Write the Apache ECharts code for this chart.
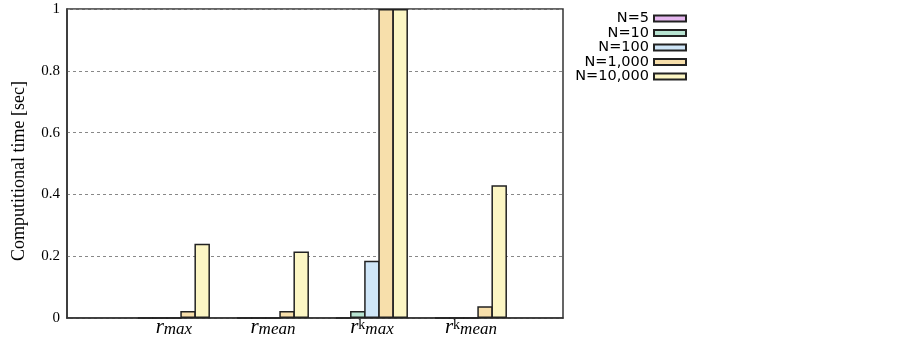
<!DOCTYPE html>
<html>
<head>
<meta charset="utf-8">
<script src="https://cdn.jsdelivr.net/npm/echarts@6/dist/echarts.min.js"></script>
<style>
html,body{margin:0;padding:0;background:#fff;}
#chart{width:903px;height:342px;}
</style>
</head>
<body>
<div id="chart"></div>
<script>
// Category label parts (r with optional superscript and subscript)
const categoryBase = ['r', 'r', 'r', 'r'];
const categorySup = ['', '', 'k', 'k'];
const categorySub = ['max', 'mean', 'max', 'mean'];
const categoryPos = [0, 1, 2, 3];

const seriesNames = ['N=5', 'N=10', 'N=100', 'N=1,000', 'N=10,000'];
const valuesN5 = [0, 0, 0, 0];
const valuesN10 = [0, 0, 0.023, 0];
const valuesN100 = [0, 0, 0.185, 0];
const valuesN1000 = [0.023, 0.023, 1, 0.038];
const valuesN10000 = [0.24, 0.215, 1, 0.43];

const yTicks = [0, 0.2, 0.4, 0.6, 0.8, 1];
const yTickLabels = ['0', '0.2', '0.4', '0.6', '0.8', '1'];

const colors = ['#e6b8f0', '#b8e4d2', '#cfe6f8', '#f7dfab', '#fcf6c4'];
const allValues = [valuesN5, valuesN10, valuesN100, valuesN1000, valuesN10000];

const chart = echarts.init(document.getElementById('chart'), null, {renderer: 'canvas'});

const series = seriesNames.map((name, i) => ({
  name: name,
  type: 'bar',
  data: allValues[i].map((v, k) => [categoryPos[k], v]),
  barWidth: 15.5,
  barGap: '-8.8%',
  itemStyle: {color: colors[i], borderColor: '#222', borderWidth: 1.5},
  emphasis: {disabled: true},
  clip: true
}));

chart.setOption({
  animation: false,
  backgroundColor: '#fff',
  grid: {left: 67, top: 9, width: 496, height: 309, show: true, borderColor: '#333', borderWidth: 1.5, backgroundColor: 'transparent'},
  legend: {
    data: seriesNames,
    orient: 'vertical',
    right: 211,
    top: 6,
    align: 'right',
    icon: 'rect',
    itemWidth: 32,
    itemHeight: 6,
    itemGap: -0.5,
    textStyle: {fontFamily: 'DejaVu Sans', fontSize: 14.5, color: '#000', lineHeight: 14},
    selectedMode: false
  },
  xAxis: {
    type: 'value',
    min: -1.08,
    max: 3.93,
    splitLine: {show: false},
    axisLine: {show: true, onZero: false, lineStyle: {color: '#333', width: 1.5}},
    axisTick: {show: false},
    axisLabel: {
      customValues: categoryPos,
      margin: 0,
      formatter: function (v) {
        const k = Math.round(v);
        let s = '{r|' + categoryBase[k] + '}';
        if (categorySup[k]) s += '{sup|' + categorySup[k] + '}';
        s += '{sub|' + categorySub[k] + '}';
        return s;
      },
      rich: {
        r: {fontFamily: 'Liberation Serif', fontStyle: 'italic', fontSize: 21, color: '#000', lineHeight: 20, verticalAlign: 'bottom'},
        sup: {fontFamily: 'Liberation Serif', fontSize: 14, color: '#000', lineHeight: 13, verticalAlign: 'top'},
        sub: {fontFamily: 'Liberation Serif', fontStyle: 'italic', fontSize: 17, color: '#000', lineHeight: 14, verticalAlign: 'bottom'}
      }
    }
  },
  yAxis: {
    type: 'value',
    min: 0,
    max: 1,
    interval: 0.2,
    name: 'Computitional time [sec]',
    nameLocation: 'middle',
    nameGap: 39,
    nameTextStyle: {fontFamily: 'Liberation Serif', fontSize: 18, color: '#000', padding: [0, 15, 0, 0]},
    axisLine: {show: true, onZero: false, lineStyle: {color: '#333', width: 1.5}},
    axisTick: {show: false},
    splitLine: {show: true, lineStyle: {color: '#888', type: [3, 3], width: 1}},
    axisLabel: {
      fontFamily: 'Liberation Serif',
      fontSize: 15,
      color: '#000',
      margin: 7,
      formatter: function (v) {
        const idx = yTicks.findIndex(t => Math.abs(t - v) < 1e-9);
        return idx >= 0 ? yTickLabels[idx] : '';
      }
    }
  },
  series: series
});
</script>
</body>
</html>
